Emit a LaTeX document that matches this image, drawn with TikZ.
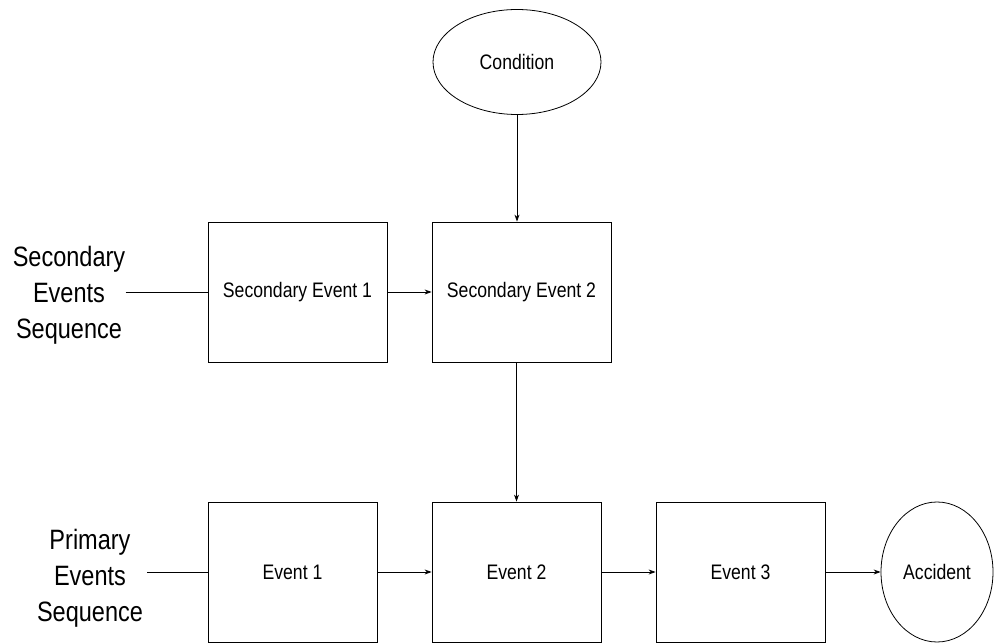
\documentclass[tikz,border=0pt]{standalone}
\usepackage{fontspec}
\setmainfont[FakeStretch=0.84]{Liberation Sans}
\usetikzlibrary{shapes.geometric,arrows.meta}

\begin{document}
\begin{tikzpicture}[x=1pt, y=-1pt, font=\fontsize{21}{25}\selectfont, >={Stealth[length=7pt,width=5pt]}, line width=0.8pt, node distance=224pt]
\useasboundingbox (0,0) rectangle (996,644);
\node[draw, minimum width=179pt, minimum height=140pt] (se1) at (297.5,292) {Secondary Event 1};
\node[draw, minimum width=179pt, minimum height=140pt, right of=se1] (se2) {Secondary Event 2};
\node[draw, ellipse, inner sep=0pt, minimum width=168pt, minimum height=105pt, above of=se2, node distance=230pt, xshift=-4.5pt] (cond) {Condition};
\node[draw, minimum width=169pt, minimum height=140pt, below of=se1, node distance=280pt, xshift=-5pt] (ev1) {Event 1};
\node[draw, minimum width=169pt, minimum height=140pt, right of=ev1] (ev2) {Event 2};
\node[draw, minimum width=169pt, minimum height=140pt, right of=ev2] (ev3) {Event 3};
\node[draw, ellipse, inner sep=0pt, minimum width=112pt, minimum height=140pt, right of=ev3, node distance=196.5pt] (acc) {Accident};
\node[align=center, inner sep=0pt, font=\fontsize{28}{36}\selectfont] (seclbl) at (69,295) {Secondary\\Events\\Sequence};
\node[align=center, inner sep=4pt, font=\fontsize{28}{36}\selectfont] (prilbl) at (90,578) {Primary\\Events\\Sequence};
\draw (seclbl.east |- se1.west) -- (se1.west);
\draw (prilbl.east |- ev1.west) -- (ev1.west);
\draw[->] (se1) -- (se2);
\draw[->] (cond) -- (cond |- se2.north);
\draw[->] (ev2 |- se2.south) -- (ev2);
\draw[->] (ev1) -- (ev2);
\draw[->] (ev2) -- (ev3);
\draw[->] (ev3) -- (acc);
\end{tikzpicture}
\end{document}
